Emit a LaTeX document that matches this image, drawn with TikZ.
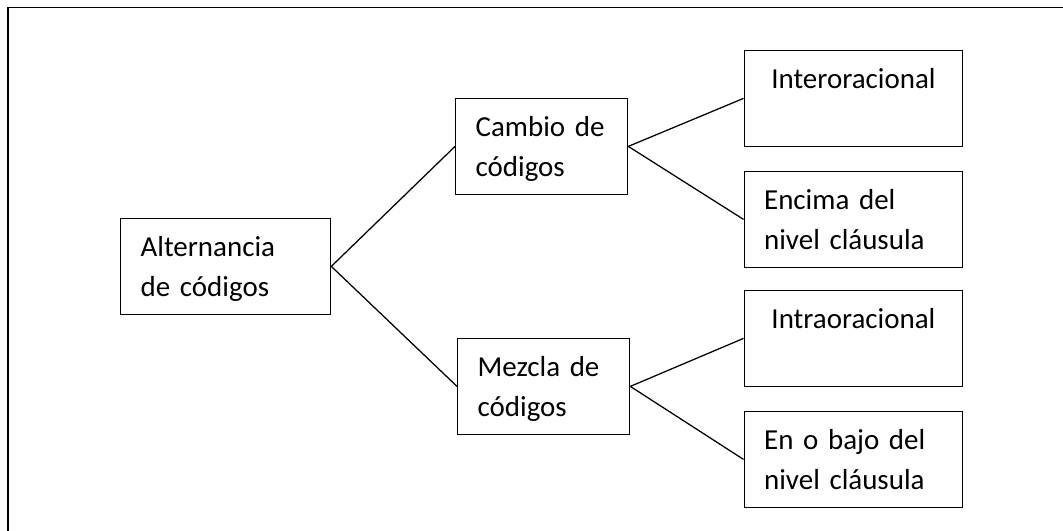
\documentclass[tikz,border=0pt]{standalone}
\usepackage{fontspec}
\setmainfont{Carlito}
\tikzset{
  caja/.style={draw, line width=0.9pt, anchor=north west, inner xsep=0.5cm, inner ysep=0pt,
    align=left, text width=#1, text height=0.95cm, text depth=1.4375cm,
    font=\fontsize{20.6}{28.1}\selectfont},
  rama/.style={line width=0.9pt}
}
\begin{document}
\begin{tikzpicture}[x=0.025cm, y=-0.025cm]
	    \useasboundingbox (0,0) rectangle (1063,531);
	    \draw[line width=1.3pt] (8,531) -- (8,7.5) -- (1063,7.5);
	    \node[caja=4.25cm] (alt) at (120,218) {Alternancia\\de códigos};
	    \node[caja=3.3cm] (cambio) at (455,98) {Cambio de\\códigos};
	    \node[caja=3.3cm] (mezcla) at (457,338) {Mezcla de\\códigos};
	    \node[caja=4.4625cm, align=center] (inter) at (743.5,50) {Interoracional};
	    \node[caja=4.4625cm] (encima) at (743.5,171) {Encima del\\nivel cláusula};
	    \node[caja=4.4625cm, align=center] (intra) at (743.5,290) {Intraoracional};
	    \node[caja=4.4625cm] (bajo) at (743.5,411) {En o bajo del\\nivel cláusula};
	    \draw[rama] (alt.east) -- (cambio.west);
	    \draw[rama] (alt.east) -- (mezcla.west);
	    \draw[rama] (cambio.east) -- (inter.west);
	    \draw[rama] (cambio.east) -- (encima.west);
	    \draw[rama] (mezcla.east) -- (intra.west);
	    \draw[rama] (mezcla.east) -- (bajo.west);
	\end{tikzpicture}
\end{document}
